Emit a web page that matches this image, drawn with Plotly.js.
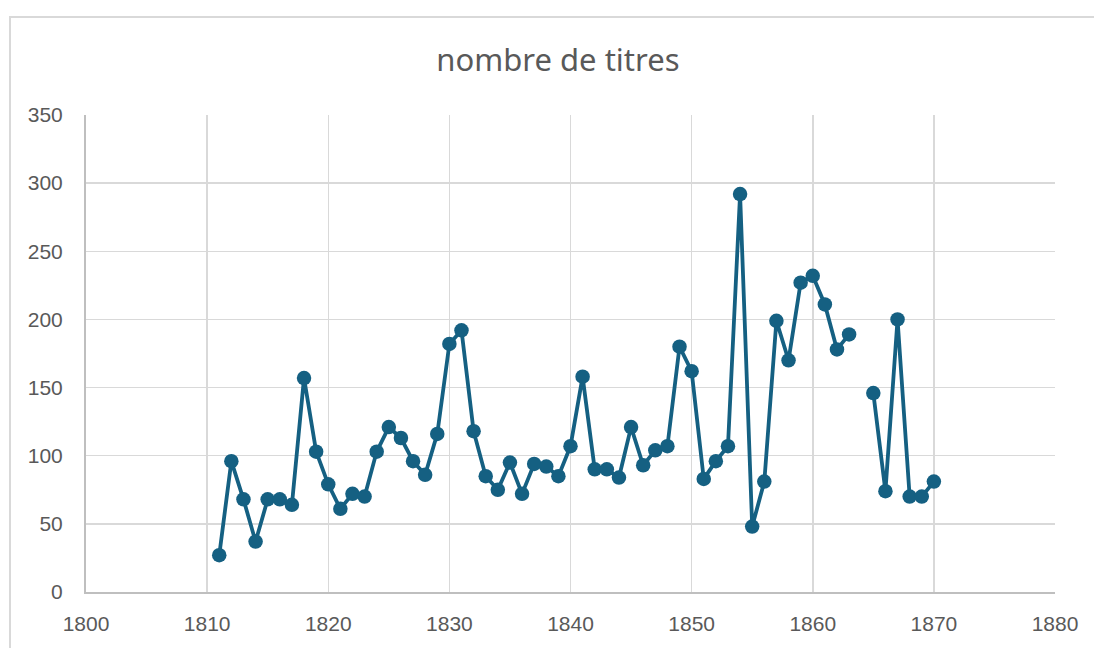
<!DOCTYPE html>
<html>
<head>
<meta charset="utf-8">
<script src="https://cdn.plot.ly/plotly-3.0.1.min.js"></script>
<style>
  html, body { margin: 0; padding: 0; background: #ffffff; }
  #frame { position: absolute; left: 9px; top: 16px; width: 1200px; height: 800px; border: 2px solid #d9d9d9; box-sizing: border-box; }
  #chart { position: absolute; left: 0; top: 0; width: 1094px; height: 648px; }
</style>
</head>
<body>
<div id="frame"></div>
<div id="chart"></div>
<script>
const years = [1811,1812,1813,1814,1815,1816,1817,1818,1819,1820,
  1821,1822,1823,1824,1825,1826,1827,1828,1829,1830,
  1831,1832,1833,1834,1835,1836,1837,1838,1839,1840,
  1841,1842,1843,1844,1845,1846,1847,1848,1849,1850,
  1851,1852,1853,1854,1855,1856,1857,1858,1859,1860,
  1861,1862,1863,1864,1865,1866,1867,1868,1869,1870];
const titres = [27,96,68,37,68,68,64,157,103,79,
  61,72,70,103,121,113,96,86,116,182,
  192,118,85,75,95,72,94,92,85,107,
  158,90,90,84,121,93,104,107,180,162,
  83,96,107,292,48,81,199,170,227,232,
  211,178,189,null,146,74,200,70,70,81];
const xTicks = [1800,1810,1820,1830,1840,1850,1860,1870,1880];
const yTicks = [0,50,100,150,200,250,300,350];
const chartTitle = "nombre de titres";

const textColor = "#595959";
const trace = {
  x: years, y: titres, type: "scatter", mode: "lines+markers",
  connectgaps: false,
  line: { color: "#156082", width: 3.8 },
  marker: { color: "#156082", size: 14.5 },
  hoverinfo: "x+y"
};
const layout = {
  width: 1094, height: 648,
  paper_bgcolor: "rgba(0,0,0,0)", plot_bgcolor: "#ffffff",
  margin: { l: 86, r: 39, t: 115, b: 56 },
  showlegend: false,
  title: { text: chartTitle, x: 0.51, xanchor: "center", y: 0.907, yanchor: "middle",
    font: { family: "Noto Sans, sans-serif", size: 31, color: textColor } },
  xaxis: {
    range: [1800, 1880], tickmode: "array", tickvals: xTicks, ticktext: xTicks.map(String),
    showgrid: true, gridcolor: "#d9d9d9", gridwidth: 1.5,
    showline: true, linecolor: "#bfbfbf", linewidth: 2, zeroline: false,
    ticks: "", ticklabelstandoff: 12,
    tickfont: { family: "Liberation Sans, Arial, sans-serif", size: 21, color: textColor }
  },
  yaxis: {
    range: [0, 350], tickmode: "array", tickvals: yTicks, ticktext: yTicks.map(String),
    showgrid: true, gridcolor: "#d9d9d9", gridwidth: 1.5,
    showline: true, linecolor: "#bfbfbf", linewidth: 2, zeroline: false,
    ticks: "", ticklabelstandoff: 17,
    tickfont: { family: "Liberation Sans, Arial, sans-serif", size: 21, color: textColor }
  }
};
Plotly.newPlot("chart", [trace], layout, { displayModeBar: false, staticPlot: true });
</script>
</body>
</html>
